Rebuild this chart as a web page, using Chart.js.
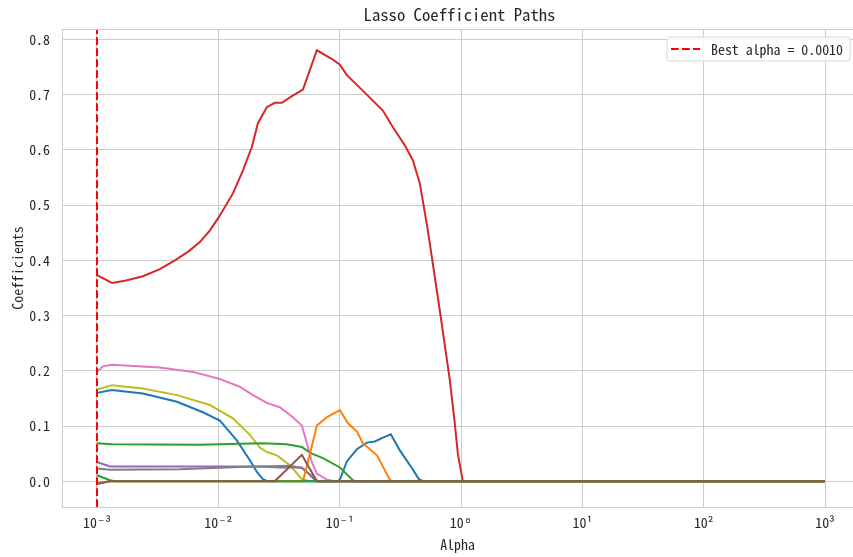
<!DOCTYPE html>
<html>
<head>
<meta charset="utf-8">
<script src="https://cdn.jsdelivr.net/npm/chart.js@4.4.1/dist/chart.umd.min.js"></script>
<style>
  html, body { margin: 0; padding: 0; background: #ffffff; }
  #wrap { width: 853px; height: 557px; position: relative; }
</style>
</head>
<body>
<div id="wrap"><canvas id="chart"></canvas></div>
<script>
// Lasso coefficient paths: each feature's coefficient as alpha grows.
const FONT = "'Noto Sans Mono CJK SC', 'DejaVu Sans Mono', monospace";
const INK = '#262626';
const GRID = '#cccccc';

const chartTitle = 'Lasso Coefficient Paths';
const bestAlpha = 0.001;

// Axis ticks
const xTickValues = [0.001, 0.01, 0.1, 1, 10, 100, 1000];
const xTickLabels = ['10\u207B\u00B3', '10\u207B\u00B2', '10\u207B\u00B9', '10\u2070', '10\u00B9', '10\u00B2', '10\u00B3'];
const yTickValues = [0.0, 0.1, 0.2, 0.3, 0.4, 0.5, 0.6, 0.7, 0.8];

// Per-feature alpha samples and coefficients
const redAlpha = [0.001, 0.00133, 0.00170, 0.00239, 0.00330, 0.00456, 0.00575, 0.00705, 0.00853, 0.0101, 0.0132, 0.0160, 0.0189, 0.0212, 0.0251, 0.0292, 0.0334, 0.0404, 0.0498, 0.0649, 0.0879, 0.1005, 0.1146, 0.155, 0.227, 0.274, 0.344, 0.401, 0.458, 0.533, 0.668, 0.809, 0.889, 0.942, 1.035, 1000];
const redCoef  = [0.373, 0.359, 0.363, 0.371, 0.384, 0.402, 0.417, 0.433, 0.454, 0.478, 0.521, 0.563, 0.605, 0.648, 0.677, 0.685, 0.685, 0.697, 0.709, 0.780, 0.763, 0.754, 0.735, 0.707, 0.671, 0.641, 0.608, 0.581, 0.539, 0.454, 0.310, 0.183, 0.105, 0.050, 0.0, 0.0];

const pinkAlpha = [0.001, 0.00112, 0.00133, 0.00330, 0.00618, 0.0103, 0.0151, 0.0193, 0.0251, 0.0321, 0.0411, 0.0488, 0.0537, 0.0590, 0.0649, 0.0785, 0.0912, 1000];
const pinkCoef  = [0.198, 0.208, 0.211, 0.206, 0.198, 0.185, 0.171, 0.156, 0.142, 0.134, 0.116, 0.101, 0.069, 0.035, 0.014, 0.003, 0.0, 0.0];

const oliveAlpha = [0.001, 0.00133, 0.00239, 0.00456, 0.00853, 0.0132, 0.0182, 0.0220, 0.0251, 0.0304, 0.0389, 0.0488, 0.0569, 1000];
const oliveCoef  = [0.166, 0.174, 0.168, 0.156, 0.138, 0.114, 0.084, 0.061, 0.053, 0.047, 0.029, 0.004, 0.0, 0.0];

const blueAlpha = [0.001, 0.00133, 0.00239, 0.00456, 0.00746, 0.0103, 0.0142, 0.0182, 0.0208, 0.0233, 0.0255, 0.0966, 0.1005, 0.1146, 0.1386, 0.1676, 0.195, 0.223, 0.264, 0.313, 0.394, 0.449, 0.494, 1000];
const blueCoef  = [0.160, 0.165, 0.159, 0.144, 0.125, 0.110, 0.074, 0.038, 0.017, 0.004, 0.0, 0.0, 0.003, 0.036, 0.058, 0.070, 0.072, 0.078, 0.085, 0.056, 0.024, 0.004, 0.0, 0.0];

const orangeAlpha = [0.001, 0.0013, 0.0498, 0.0569, 0.0649, 0.0785, 0.1005, 0.117, 0.139, 0.155, 0.203, 0.259, 0.27, 1000];
const orangeCoef  = [-0.003, 0.0, 0.0, 0.050, 0.101, 0.116, 0.129, 0.105, 0.090, 0.069, 0.047, 0.003, 0.0, 0.0];

const greenAlpha = [0.001, 0.00133, 0.00705, 0.0151, 0.0233, 0.0367, 0.0488, 0.0590, 0.0728, 0.1005, 0.1285, 0.135, 1000];
const greenCoef  = [0.069, 0.067, 0.066, 0.068, 0.069, 0.067, 0.062, 0.050, 0.042, 0.025, 0.002, 0.0, 0.0];

const green2Alpha = [0.001, 0.00128, 0.0014, 1000];
const green2Coef  = [0.011, 0.002, 0.0, 0.0];

const purpleAlpha = [0.001, 0.00128, 0.0220, 0.0321, 0.0488, 0.0537, 0.0625, 0.068, 1000];
const purpleCoef  = [0.035, 0.027, 0.027, 0.025, 0.025, 0.017, 0.002, 0.0, 0.0];

const grayAlpha = [0.001, 0.00128, 0.00483, 0.0151, 0.0389, 0.0488, 0.0601, 0.066, 1000];
const grayCoef  = [0.023, 0.021, 0.022, 0.026, 0.028, 0.024, 0.008, 0.0, 0.0];

const brownAlpha = [0.001, 0.00128, 0.0292, 0.0488, 0.0649, 1000];
const brownCoef  = [-0.005, 0.0, 0.0, 0.048, 0.0, 0.0];

function points(xs, ys) {
  return xs.map((x, i) => ({ x: x, y: ys[i] }));
}

function path(color, xs, ys, order) {
  return {
    label: '',
    data: points(xs, ys),
    borderColor: color,
    borderWidth: 2,
    pointRadius: 0,
    tension: 0,
    fill: false,
    order: order
  };
}

const yMin = -0.0465, yMax = 0.8185;

const datasets = [
  {
    label: 'Best alpha = ' + bestAlpha.toFixed(4),
    data: [{ x: bestAlpha, y: yMin }, { x: bestAlpha, y: yMax }],
    borderColor: '#ff0000',
    borderWidth: 2,
    borderDash: [7.7, 3.3],
    pointRadius: 0,
    fill: false,
    order: -1,
    isLegend: true
  },
  path('#8c564b', brownAlpha, brownCoef, 0),
  path('#2ca02c', green2Alpha, green2Coef, 1),
  path('#ff7f0e', orangeAlpha, orangeCoef, 2),
  path('#7f7f7f', grayAlpha, grayCoef, 3),
  path('#9467bd', purpleAlpha, purpleCoef, 4),
  path('#2ca02c', greenAlpha, greenCoef, 5),
  path('#1f77b4', blueAlpha, blueCoef, 6),
  path('#bcbd22', oliveAlpha, oliveCoef, 7),
  path('#e377c2', pinkAlpha, pinkCoef, 8),
  path('#d62728', redAlpha, redCoef, 9)
];

// The axes box runs a few pixels past the canvas on the right
const AXES_OVERHANG = 4;

// Title centred over the axes, top frame line and the boxed legend
const framePlugin = {
  id: 'frameAndLegend',
  afterDatasetsDraw(chart) {
    const ctx = chart.ctx;
    const a = chart.chartArea;
    ctx.save();
    ctx.strokeStyle = GRID;
    ctx.lineWidth = 1;
    ctx.beginPath();
    ctx.moveTo(a.left, a.top + 0.5);
    ctx.lineTo(a.right, a.top + 0.5);
    ctx.stroke();

    ctx.fillStyle = INK;
    ctx.font = '16.7px ' + FONT;
    ctx.textAlign = 'center';
    ctx.textBaseline = 'middle';
    ctx.fillText(chartTitle, (a.left + a.right + AXES_OVERHANG) / 2, 15);

    const ds = chart.data.datasets.find(d => d.isLegend);
    const bx = a.right - 186, by = a.top + 8, bw = 183, bh = 24, r = 3;
    ctx.fillStyle = 'rgba(255,255,255,0.8)';
    ctx.strokeStyle = '#d6d6d6';
    ctx.beginPath();
    ctx.moveTo(bx + r, by);
    ctx.lineTo(bx + bw - r, by);
    ctx.arcTo(bx + bw, by, bx + bw, by + r, r);
    ctx.lineTo(bx + bw, by + bh - r);
    ctx.arcTo(bx + bw, by + bh, bx + bw - r, by + bh, r);
    ctx.lineTo(bx + r, by + bh);
    ctx.arcTo(bx, by + bh, bx, by + bh - r, r);
    ctx.lineTo(bx, by + r);
    ctx.arcTo(bx, by, bx + r, by, r);
    ctx.closePath();
    ctx.fill();
    ctx.stroke();

    const ly = by + bh / 2;
    ctx.strokeStyle = ds.borderColor;
    ctx.lineWidth = 2;
    ctx.setLineDash(ds.borderDash);
    ctx.beginPath();
    ctx.moveTo(bx + 4, ly);
    ctx.lineTo(bx + 33, ly);
    ctx.stroke();
    ctx.setLineDash([]);

    ctx.fillStyle = INK;
    ctx.font = '13.9px ' + FONT;
    ctx.textBaseline = 'middle';
    ctx.textAlign = 'left';
    ctx.fillText(ds.label, bx + 44, ly + 1);
    ctx.restore();
  }
};

new Chart(document.getElementById('chart'), {
  type: 'line',
  data: { datasets: datasets },
  plugins: [framePlugin],
  options: {
    responsive: true,
    maintainAspectRatio: false,
    animation: false,
    layout: { padding: { top: 29, left: 0, right: 0, bottom: 0 } },
    plugins: {
      legend: { display: false },
      tooltip: { enabled: false },
      title: { display: false }
    },
    scales: {
      x: {
        type: 'logarithmic',
        min: Math.pow(10, -3.2883),
        max: Math.pow(10, 3.2306),
        afterBuildTicks(scale) {
          scale.ticks = xTickValues.map(v => ({ value: v }));
        },
        afterFit(scale) { scale.height = 50; },
        ticks: {
          color: INK,
          font: { family: FONT, size: 13.9 },
          padding: 7,
          maxRotation: 0,
          autoSkip: false,
          callback: (v, i) => xTickLabels[i]
        },
        grid: { color: GRID, lineWidth: 1, drawTicks: false },
        border: { display: true, color: GRID, width: 1 },
        title: {
          display: true,
          text: 'Alpha',
          color: INK,
          font: { family: FONT, size: 13.9 },
          padding: { top: 0, bottom: 4 }
        }
      },
      y: {
        type: 'linear',
        min: yMin,
        max: yMax,
        afterBuildTicks(scale) {
          scale.ticks = yTickValues.map(v => ({ value: v }));
        },
        afterFit(scale) { scale.width = 62; },
        ticks: {
          color: INK,
          font: { family: FONT, size: 13.9 },
          padding: 12,
          callback: v => v.toFixed(1)
        },
        grid: { color: GRID, lineWidth: 1, drawTicks: false },
        border: { display: true, color: GRID, width: 1 },
        title: {
          display: true,
          text: 'Coefficients',
          color: INK,
          font: { family: FONT, size: 13.9 },
          padding: { top: 9, bottom: 0 }
        }
      }
    }
  }
});
</script>
</body>
</html>
